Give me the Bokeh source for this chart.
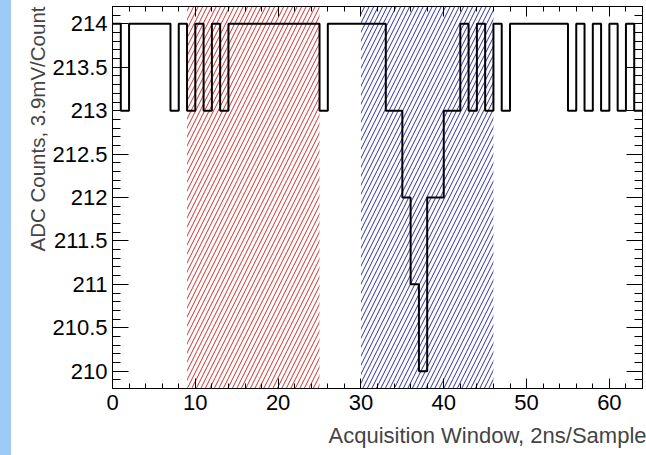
from bokeh.plotting import figure
from bokeh.models import (Range1d, LinearAxis, BoxAnnotation, Title,
                          SingleIntervalTicker, CustomJSTickFormatter)
from bokeh.embed import file_html
from bokeh.resources import INLINE

# ---- data ----
samples = list(range(64))
adc_counts = [214, 213, 214, 214, 214, 214, 214, 213, 214, 213,
              214, 213, 214, 213, 214, 214, 214, 214, 214, 214,
              214, 214, 214, 214, 214, 213, 214, 214, 214, 214,
              214, 214, 214, 213, 213, 212, 211, 210, 212, 212,
              213, 213, 214, 213, 214, 213, 214, 213, 214, 214,
              214, 214, 214, 214, 214, 213, 214, 213, 214, 213,
              214, 213, 214, 213]
red_window = [9, 25]
blue_window = [30, 46]
x_limits = [0, 64]
y_limits = [209.8, 214.2]
x_title = "Acquisition Window, 2ns/Sample"
y_title = "ADC Counts, 3.9mV/Count"

FONT = "Liberation Sans"

p = figure(width=646, height=455, output_backend="svg", toolbar_location=None,
           x_range=Range1d(*x_limits), y_range=Range1d(*y_limits),
           x_axis_type=None, y_axis_type=None,
           min_border_left=112, min_border_right=4, min_border_top=6,
           min_border_bottom=10)
p.outline_line_color = "black"
p.outline_line_width = 1
p.background_fill_color = "white"
# transparent border so the host element's background (light strip) shows
p.border_fill_color = None
p.styles = {"background": "linear-gradient(to right, #9dcbf6 0px, #9dcbf6 11px, "
                          "#ffffff 11px, #ffffff 100%)"}

xt = SingleIntervalTicker(interval=10, num_minor_ticks=5)
yt = SingleIntervalTicker(interval=0.5, num_minor_ticks=5)
yfmt = CustomJSTickFormatter(code="return String(Math.round(tick*10)/10)")


def style(ax, major_in, minor_in, labels=True, standoff=6):
    ax.major_tick_in = major_in
    ax.major_tick_out = 0
    ax.minor_tick_in = minor_in
    ax.minor_tick_out = 0
    ax.major_tick_line_color = "black"
    ax.minor_tick_line_color = "black"
    ax.axis_line_color = "black"
    if labels:
        ax.major_label_text_font = FONT
        ax.major_label_text_font_size = "22px"
        ax.major_label_text_color = "black"
        ax.major_label_standoff = standoff
    else:
        ax.major_label_text_font_size = "1px"
        ax.major_label_text_color = None
        ax.major_label_standoff = 0


xb = LinearAxis(ticker=xt)
style(xb, 10, 5, standoff=6)
p.add_layout(xb, "below")
xa = LinearAxis(ticker=xt)
style(xa, 10, 5, labels=False)
p.add_layout(xa, "above")

yl = LinearAxis(ticker=yt, formatter=yfmt)
style(yl, 16, 8, standoff=5)
p.add_layout(yl, "left")
yr = LinearAxis(ticker=yt)
style(yr, 16, 8, labels=False)
p.add_layout(yr, "right")

p.add_layout(Title(text=y_title, align="right", text_font=FONT,
                   text_font_size="20.5px", text_font_style="normal",
                   standoff=2), "left")
p.add_layout(Title(text=x_title, align="right", text_font=FONT,
                   text_font_size="22px", text_font_style="normal",
                   standoff=16, offset=-4), "below")

p.add_layout(BoxAnnotation(left=red_window[0], right=red_window[1],
                           fill_color=None, fill_alpha=0, line_color=None,
                           hatch_pattern="/", hatch_color="#cc3030",
                           hatch_scale=9, hatch_weight=1, level="underlay"))
p.add_layout(BoxAnnotation(left=blue_window[0], right=blue_window[1],
                           fill_color=None, fill_alpha=0, line_color=None,
                           hatch_pattern="/", hatch_color="#30309c",
                           hatch_scale=9, hatch_weight=1, level="underlay"))

edges = samples + [samples[-1] + 1]
vals = adc_counts + [adc_counts[-1]]
p.step(x=edges, y=vals, mode="after", line_color="black", line_width=2)

open("out.html", "w").write(file_html(p, INLINE))
